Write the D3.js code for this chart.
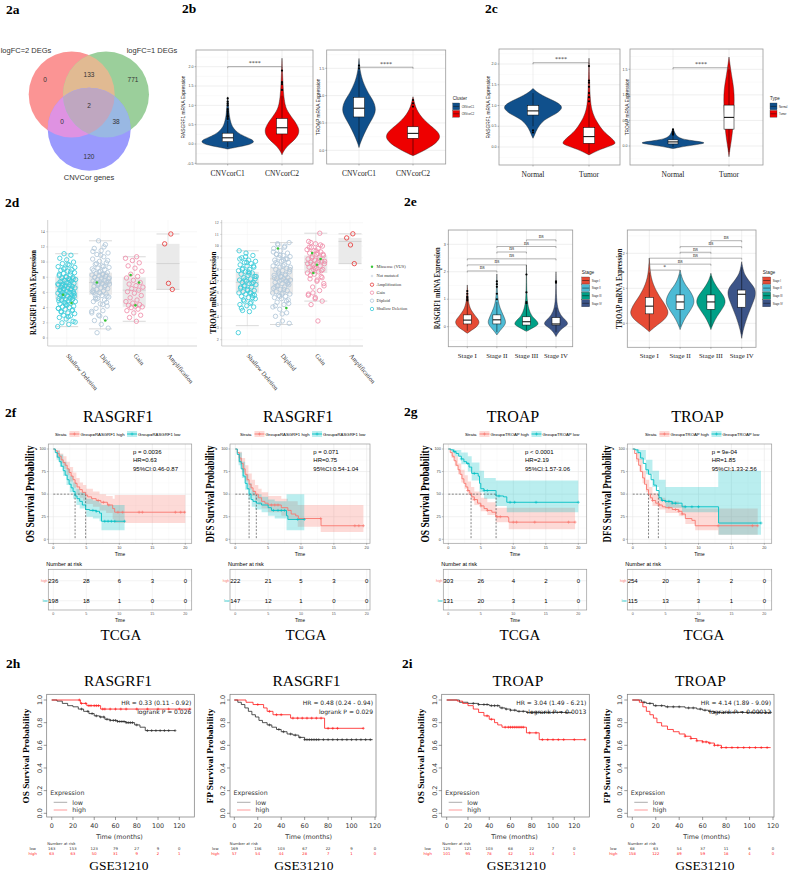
<!DOCTYPE html>
<html><head><meta charset="utf-8">
<script src="https://cdn.jsdelivr.net/npm/d3@7/dist/d3.min.js"></script>
<style>html,body{margin:0;padding:0;background:#fff;}svg{display:block;}</style>
</head><body>
<svg id="fig" width="791" height="872" xmlns="http://www.w3.org/2000/svg"></svg>
<script>
// ================= DATA =================
const vennSetNames = ["logFC=2 DEGs", "logFC=1 DEGs", "CNVCor genes"];
const vennRegionCounts = [0, 133, 771, 2, 0, 38, 120]; // A, A∩B, B, A∩B∩C, A∩C, B∩C, C

const clusterCats = ["CNVcorC1", "CNVcorC2"];
const typeCats = ["Normal", "Tumor"];
const stageCats = ["Stage I", "Stage II", "Stage III", "Stage IV"];
const cnaCats = ["Shallow Deletion", "Diploid", "Gain", "Amplification"];

// violin density profiles [expression, relative half-width]
const rasC1Dens = [[-0.13,0],[-0.08,0.35],[-0.02,0.8],[0.05,1],[0.12,0.9],[0.2,0.6],[0.3,0.35],[0.4,0.22],[0.5,0.14],[0.6,0.1],[0.7,0.07],[0.8,0.05],[1.0,0.03],[1.22,0]];
const rasC2Dens = [[-0.28,0],[-0.15,0.08],[0,0.28],[0.1,0.45],[0.2,0.57],[0.3,0.63],[0.4,0.62],[0.5,0.55],[0.6,0.46],[0.7,0.35],[0.8,0.25],[0.9,0.17],[1.0,0.12],[1.2,0.07],[1.5,0.04],[1.8,0.02],[2.22,0]];
const rasClusterBox = [[-0.08,0.06,0.16,0.28,0.6],[-0.2,0.26,0.42,0.66,1.25]];
const rasClusterOut = [[0.65,0.7,0.72,0.75,0.8,0.85,0.9,1.0,1.05,1.1,1.18],[1.4,1.55,1.6,1.9]];
const troC1Dens = [[0.05,0],[0.15,0.06],[0.3,0.19],[0.45,0.34],[0.55,0.46],[0.65,0.57],[0.74,0.62],[0.85,0.58],[0.95,0.47],[1.05,0.34],[1.15,0.24],[1.25,0.15],[1.35,0.09],[1.45,0.045],[1.55,0.02],[1.68,0]];
const troC2Dens = [[-0.1,0],[-0.02,0.35],[0.05,0.6],[0.12,0.82],[0.2,0.97],[0.27,1],[0.35,0.9],[0.45,0.65],[0.55,0.42],[0.65,0.25],[0.75,0.13],[0.85,0.06],[0.98,0]];
const troClusterBox = [[0.12,0.61,0.77,0.97,1.45],[-0.08,0.22,0.31,0.43,0.74]];
const troClusterOut = [[1.5,1.55],[0.8,0.86,0.92]];

const rasNDens = [[0.21,0],[0.3,0.06],[0.45,0.15],[0.6,0.3],[0.7,0.5],[0.8,0.8],[0.9,0.97],[0.97,1],[1.05,0.9],[1.15,0.6],[1.25,0.3],[1.33,0.12],[1.41,0]];
const rasTDens = [[-0.19,0],[-0.05,0.4],[0.05,0.85],[0.1,0.93],[0.2,0.8],[0.3,0.62],[0.4,0.48],[0.5,0.37],[0.6,0.28],[0.7,0.2],[0.8,0.14],[0.9,0.1],[1.0,0.07],[1.2,0.04],[1.5,0.02],[2.14,0]];
const rasTypeBox = [[0.5,0.77,0.87,1.0,1.3],[-0.15,0.09,0.25,0.47,1.02]];
const rasTypeOut = [[0.4,0.35],[1.1,1.2,1.3,1.45,1.55,1.6,1.95]];
const troNDens = [[-0.05,0],[0,0.4],[0.04,0.85],[0.065,1],[0.09,0.75],[0.12,0.4],[0.16,0.18],[0.22,0.08],[0.28,0.04],[0.35,0]];
const troTDens = [[-0.21,0],[-0.05,0.03],[0.1,0.07],[0.3,0.11],[0.5,0.13],[0.7,0.15],[0.9,0.16],[1.1,0.15],[1.3,0.1],[1.5,0.05],[1.74,0]];
const troTypeBox = [[-0.02,0.04,0.08,0.12,0.2],[-0.12,0.33,0.56,0.8,1.5]];
const troTypeOut = [[0.22,0.25,0.28,0.32],[]];

const rasStageDens = [
  [[-0.24,0],[-0.1,0.45],[0,0.8],[0.1,0.95],[0.18,1],[0.3,0.85],[0.4,0.65],[0.5,0.48],[0.6,0.33],[0.7,0.22],[0.85,0.12],[1.0,0.07],[1.2,0.04],[1.52,0]],
  [[-0.3,0],[-0.15,0.25],[0,0.55],[0.12,0.75],[0.25,0.7],[0.35,0.6],[0.45,0.5],[0.55,0.4],[0.65,0.3],[0.75,0.22],[0.9,0.13],[1.1,0.07],[1.4,0.03],[1.92,0]],
  [[-0.17,0],[-0.05,0.5],[0.05,0.92],[0.12,1],[0.22,0.85],[0.32,0.6],[0.42,0.42],[0.52,0.3],[0.65,0.2],[0.8,0.12],[1.0,0.06],[1.3,0.03],[1.7,0.015],[2.25,0]],
  [[-0.36,0],[-0.2,0.2],[-0.05,0.55],[0.05,0.9],[0.12,1],[0.22,0.85],[0.32,0.6],[0.42,0.4],[0.55,0.25],[0.7,0.14],[0.9,0.07],[1.2,0.03],[1.6,0.015],[2.0,0]]];
const rasStageBox = [[-0.15,0.1,0.24,0.43,0.9],[-0.2,0.1,0.25,0.43,0.9],[-0.12,0.06,0.18,0.36,0.8],[-0.2,0.06,0.1,0.33,0.7]];
const rasStageOut = [[0.95,1.0,1.05,1.1,1.2,1.3],[1.0,1.2,1.45,1.55,1.65],[0.85,0.9,1.25,1.9],[1.6,1.65]];
const rasStageSig = [[0,1,2.03,"ns"],[0,2,2.25,"ns"],[0,3,2.47,"ns"],[1,2,2.72,"ns"],[1,3,2.92,"ns"],[2,3,3.16,"ns"]];

const troStageDens = [
  [[-0.24,0],[-0.1,0.3],[0,0.55],[0.1,0.78],[0.2,0.93],[0.3,1],[0.4,0.95],[0.5,0.86],[0.6,0.75],[0.7,0.62],[0.8,0.5],[0.9,0.4],[1.0,0.3],[1.2,0.15],[1.4,0.07],[1.6,0.03],[1.86,0]],
  [[-0.18,0],[0,0.12],[0.2,0.32],[0.35,0.52],[0.5,0.68],[0.6,0.74],[0.7,0.72],[0.8,0.65],[0.9,0.55],[1.0,0.42],[1.1,0.28],[1.25,0.13],[1.4,0.05],[1.52,0]],
  [[-0.18,0],[0,0.12],[0.2,0.32],[0.35,0.52],[0.5,0.7],[0.6,0.76],[0.7,0.73],[0.8,0.64],[0.9,0.5],[1.0,0.36],[1.15,0.18],[1.3,0.06],[1.43,0]],
  [[-0.43,0],[-0.2,0.07],[0,0.18],[0.2,0.3],[0.4,0.45],[0.6,0.6],[0.75,0.7],[0.88,0.74],[1.0,0.68],[1.1,0.55],[1.2,0.4],[1.35,0.2],[1.5,0.08],[1.76,0]]];
const troStageBox = [[-0.2,0.27,0.49,0.74,1.45],[-0.1,0.4,0.61,0.81,1.4],[-0.1,0.4,0.61,0.81,1.35],[-0.3,0.46,0.83,0.95,1.6]];
const troStageOut = [[],[],[],[]];
const troStageSig = [[0,1,1.52,"*"],[0,2,1.69,"ns"],[0,3,1.86,"ns"],[1,2,2.03,"ns"],[1,3,2.19,"ns"],[2,3,2.36,"ns"]];

// 2d: expression per copy-number group
const rasCnaPts = [
  [1.5,1.8,2.0,2.2,2.5,2.7,2.9,3.0,3.2,3.3,3.5,3.6,3.8,3.9,4.0,4.1,4.2,4.3,4.5,4.6,4.7,4.8,4.9,5.0,5.1,5.1,5.2,5.3,5.4,5.5,5.5,5.6,5.7,5.8,5.9,6.0,6.0,6.1,6.2,6.3,6.4,6.5,6.6,6.6,6.7,6.8,6.9,7.0,7.0,7.1,7.2,7.3,7.4,7.5,7.6,7.7,7.8,7.9,8.0,8.1,8.2,8.3,8.5,8.6,8.8,8.9,9.0,9.2,9.4,9.6,9.8,10.0,10.3,10.5,10.9,11.1,
   2.1,2.8,3.4,3.7,4.4,4.9,5.2,5.6,5.8,6.1,6.3,6.5,6.8,7.1,7.3,7.5,7.8,8.0,8.4,8.7,9.1,9.3,9.7,6.2,5.4,4.6,3.9,7.6,6.9,5.9],
  [0.7,1.3,1.8,2.3,2.6,3.0,3.3,3.6,3.9,4.2,4.5,4.8,5.0,5.2,5.4,5.6,5.7,5.8,6.0,6.1,6.2,6.4,6.5,6.6,6.8,6.9,7.0,7.1,7.2,7.3,7.3,7.4,7.5,7.6,7.7,7.8,7.9,8.0,8.1,8.2,8.3,8.4,8.5,8.6,8.8,8.9,9.0,9.2,9.3,9.5,9.7,9.9,10.1,10.4,10.7,11.0,11.2,11.5,11.8,12.3,12.8,
   3.5,4.4,5.1,5.5,5.9,6.3,6.7,7.0,7.4,7.7,8.0,8.3,8.7,9.1,9.4,9.8,10.2,10.9,6.0,6.9,7.2,7.9,8.4,5.3,4.7,2.9,11.4,12.0],
  [2.2,2.7,3.0,3.3,3.6,3.8,4.0,4.1,4.2,4.3,4.4,4.6,4.8,5.0,5.3,5.6,5.9,6.1,6.3,6.5,6.7,6.9,7.1,7.3,7.6,7.9,8.1,8.4,8.8,9.2,9.5,9.9,10.2,10.5,10.7],
  [6.4,7.2,12.4,13.7]];
const rasCnaMut = [[5.7,4.6],[7.3,2.3],[8.3,7.3,4.3],[]];
const rasCnaBox = [[1.5,5.1,6.7,8.1,11.1],[1.2,5.7,7.3,8.6,12.8],[2.2,4.1,6.3,8.0,10.7],[6.4,6.4,9.8,12.4,13.7]];
const troCnaPts = [
  [2.6,4.4,4.5,4.8,4.9,5.0,5.2,5.3,5.5,5.6,5.7,5.8,5.9,6.0,6.0,6.1,6.2,6.3,6.4,6.5,6.6,6.7,6.8,6.9,6.9,7.0,7.1,7.2,7.3,7.4,7.5,7.6,7.7,7.8,7.9,8.0,8.1,8.2,8.3,8.4,8.5,8.6,8.7,8.8,9.0,9.2,9.4,9.6,
   5.1,5.4,5.8,6.2,6.5,6.8,7.1,7.4,7.7,8.0,8.3,8.6,8.9,6.0,6.6,7.2,7.8,4.7,5.6,9.1],
  [3.3,3.4,3.6,4.0,4.3,4.6,4.8,5.0,5.2,5.4,5.5,5.6,5.7,5.8,5.9,6.0,6.1,6.2,6.3,6.4,6.5,6.6,6.7,6.8,6.9,7.0,7.0,7.1,7.2,7.2,7.3,7.4,7.5,7.6,7.7,7.8,7.9,8.0,8.1,8.2,8.3,8.4,8.5,8.6,8.7,8.8,8.9,9.0,9.1,9.2,9.3,9.4,9.6,9.8,10.0,10.1,10.3,
   4.2,4.9,5.3,5.7,6.0,6.3,6.6,6.9,7.1,7.3,7.5,7.8,8.0,8.3,8.6,8.9,9.2,9.5,9.9,10.2,5.1,5.9,6.5,7.0,7.6,8.2,8.8,9.3,6.8,7.4],
  [3.6,5.0,5.3,5.6,5.9,6.2,6.5,6.8,7.0,7.2,7.4,7.6,7.7,7.8,7.9,8.0,8.1,8.2,8.3,8.4,8.5,8.6,8.6,8.7,8.8,8.9,9.0,9.1,9.2,9.3,9.4,9.5,9.6,9.7,9.8,9.9,10.0,10.2,10.4,11.1,
   6.0,6.6,7.1,7.5,7.9,8.2,8.5,8.8,9.0,9.3,9.6,9.9,10.1,8.0,8.7,9.4,10.3,7.3,5.5,5.8],
  [8.5,10.1,10.7,11.05]];
const troCnaMut = [[],[9.8,4.7],[9.4,8.9,8.4,7.7],[]];
const troCnaBox = [[3.2,6.0,6.9,7.8,9.6],[3.3,5.9,7.2,8.2,10.3],[5.3,7.7,8.6,9.2,11.1],[8.5,8.5,10.4,10.7,11.05]];
const cnaLegendItems = ["Missense (VUS)", "Not mutated", "Amplification", "Gain", "Diploid", "Shallow Deletion"];

// TCGA Kaplan-Meier (time in years, survival in %)
const kmTimeTicks = [0, 5, 10, 15, 20];
const kmSurvTicks = [0, 25, 50, 75, 100];
const f1HighSteps = [[0,100],[0.3,98],[0.6,95],[0.9,92],[1.2,88],[1.5,85],[1.8,82],[2.1,78],[2.4,74],[2.7,70],[3,66],[3.3,62],[3.6,58],[4,55],[4.4,52],[4.9,49],[5.2,47],[5.8,45],[6.5,43],[7.2,41],[8.2,38],[9,34],[9.3,30],[20,30]];
const f1HighCens = [6.8,7.6,8.4,9.8,10.5,13,13.5,18.5,19.3,19.9];
const f1HighCI = [[0,100,100],[0.5,90,99],[1,84,95],[1.5,78,92],[2,71,86],[2.5,64,80],[3,57,74],[3.5,50,68],[4,46,63],[4.5,43,60],[5,39,56],[6,36,53],[7,32,50],[8,29,48],[9,22,45],[9.3,18,49],[20,18,49]];
const f1LowSteps = [[0,100],[0.3,96],[0.6,91],[0.9,86],[1.2,81],[1.5,76],[1.8,71],[2.1,66],[2.4,61],[2.7,57],[3,53],[3.3,48],[3.6,45],[4,42],[4.4,38],[4.9,33],[5.5,32],[6.5,31],[7,29],[7.3,20],[10.8,20]];
const f1LowCens = [6,6.5,7.8,8.3,8.8,9.3,10.8];
const f1LowCI = [[0,100,100],[0.5,88,98],[1,80,94],[1.5,70,86],[2,60,78],[2.5,52,70],[3,45,63],[3.5,38,56],[4,34,52],[5,25,45],[6,23,43],[7,20,40],[7.3,10,38],[10.8,10,38]];
const f1Medians = [4.9, 3.3];
const f1Stats = ["p = 0.0036", "HR=0.63", "95%CI:0.46-0.87"];
const f1RiskHigh = [236, 28, 6, 3, 0];
const f1RiskLow = [198, 18, 1, 0, 0];

const f2HighSteps = [[0,100],[0.3,96],[0.6,90],[0.9,84],[1.2,78],[1.5,72],[1.8,66],[2.1,61],[2.4,57],[2.7,53],[3.1,50],[3.5,46],[4,42],[4.5,40],[5,38],[6.5,38],[7,35],[8,32],[8.5,28],[9.2,26],[9.6,23],[13,23],[13.05,15],[19.5,15]];
const f2HighCens = [5.5,6,6.5,13,18.2,18.8,19.5];
const f2HighCI = [[0,100,100],[0.5,85,97],[1,74,90],[1.5,64,82],[2,55,73],[2.5,48,66],[3,42,60],[3.5,38,56],[4,34,52],[5,30,48],[7,26,45],[8,22,42],[9.5,14,38],[13,8,38],[19.5,8,38]];
const f2LowSteps = [[0,100],[0.3,94],[0.6,86],[0.9,78],[1.2,70],[1.5,62],[1.8,56],[2.1,50],[2.4,44],[2.7,42],[3.2,40],[4,38],[5,35],[5.5,32],[7.5,32],[7.8,26],[8,22],[10.5,22]];
const f2LowCens = [5.8,6.5,7,7.5,9.5,10.5];
const f2LowCI = [[0,100,100],[0.5,82,96],[1,68,86],[1.5,55,72],[2,44,62],[2.5,36,54],[3,33,50],[4,30,47],[5,26,44],[6,23,42],[7.8,10,50],[10.5,10,50]];
const f2Medians = [3.2, 2.1];
const f2Stats = ["p = 0.071", "HR=0.75", "95%CI:0.54-1.04"];
const f2RiskHigh = [222, 21, 5, 3, 0];
const f2RiskLow = [147, 12, 1, 0, 0];

const g1HighSteps = [[0,100],[0.3,96],[0.6,92],[0.9,87],[1.2,82],[1.5,77],[1.8,72],[2.1,67],[2.4,62],[2.7,58],[3,54],[3.3,51],[3.6,47],[4,44],[4.5,40],[5,37],[5.5,34],[6,32],[6.7,30],[7.3,25],[9.2,24],[9.3,19],[19.5,19]];
const g1HighCens = [3,4,5,6,7.5,8,10,10.5,13.3,18.5,19.5];
const g1HighCI = [[0,100,100],[0.5,90,98],[1,81,92],[1.5,72,84],[2,63,77],[2.5,56,71],[3,49,64],[3.5,43,58],[4,38,53],[5,31,46],[6,27,41],[7.3,19,35],[9.3,11,35],[19.5,11,35]];
const g1LowSteps = [[0,100],[0.4,99],[0.8,97],[1.2,95],[1.6,92],[2,89],[2.4,86],[2.8,84],[3.2,80],[3.6,73],[4.6,70],[4.8,62],[5,56],[5.5,54],[7.3,54],[7.35,48],[8.5,47],[9,41],[20,41]];
const g1LowCens = [1,2,3,4,5.5,6,7.8,9.5,10.2,13.5,20];
const g1LowCI = [[0,100,100],[0.5,96,100],[1,92,99],[2,83,96],[3,75,92],[3.6,65,85],[4.8,52,76],[5.5,45,68],[7.3,37,65],[9,30,65],[20,30,65]];
const g1Medians = [3.5, 7.35];
const g1Stats = ["p < 0.0001", "HR=2.19", "95%CI:1.57-3.06"];
const g1RiskHigh = [303, 26, 4, 2, 0];
const g1RiskLow = [131, 20, 3, 1, 0];

const g2HighSteps = [[0,100],[0.3,95],[0.6,89],[0.9,82],[1.2,75],[1.5,68],[1.8,61],[2.1,55],[2.4,50],[2.7,46],[3,43],[3.5,40],[4,38],[4.5,36],[5,35],[6,33],[7,31],[7.5,28],[8,23],[9,21],[9.5,15],[19,15]];
const g2HighCens = [3,4,5.5,6.5,7,7.5,13,18.2,19];
const g2HighCI = [[0,100,100],[0.5,86,96],[1,75,89],[1.5,62,76],[2,52,66],[2.5,44,58],[3,37,51],[4,33,46],[5,29,42],[7,26,38],[8,17,34],[9.5,10,34],[13,5,34],[19,5,34]];
const g2LowSteps = [[0,100],[0.4,99],[0.8,96],[1.2,90],[1.6,84],[2,77],[2.4,72],[2.8,66],[3.2,60],[3.6,54],[4,46],[4.4,43],[5,42],[6,40],[7.5,36],[13,36],[13.05,18],[19.5,18]];
const g2LowCens = [4.5,5,5.5,6,6.5,8,9,10,19.5];
const g2LowCI = [[0,100,100],[0.5,95,100],[1,88,99],[2,72,88],[3,58,76],[4,43,66],[5,35,58],[7.5,30,58],[13,18,76],[13.05,5,76],[19.5,5,76]];
const g2Medians = [2.4, 3.9];
const g2Stats = ["p = 9e-04", "HR=1.85", "95%CI:1.33-2.56"];
const g2RiskHigh = [254, 20, 3, 2, 0];
const g2RiskLow = [115, 13, 3, 1, 0];

// GSE31210 Kaplan-Meier (months, probability)
const gseTimeTicks = [0, 20, 40, 60, 80, 100, 120];
const gseSurvTicks = [0, 0.2, 0.4, 0.6, 0.8, 1.0];
const h1LowSteps = [[0,1],[5,0.99],[10,0.97],[15,0.95],[20,0.94],[25,0.92],[30,0.9],[35,0.88],[40,0.86],[45,0.85],[50,0.83],[55,0.82],[62,0.81],[70,0.8],[78,0.78],[83,0.76],[88,0.73],[116,0.73]];
const h1LowCens = [28,34,38,42,46,49,52,55,58,60,62,64,66,68,70,72,74,76,80,90,94,98,102,106,110,116];
const h1HighSteps = [[0,1],[27,0.97],[33,0.95],[46,0.92],[130,0.92]];
const h1HighCens = [26,28,32,35,37,40,42,44,48,50,55,60,65,70,80,90,100,110,120,130];
const h1Stats = ["HR = 0.33 (0.11 - 0.92)", "logrank P = 0.026"];
const h1RiskLow = [163, 153, 123, 79, 27, 9, 0];
const h1RiskHigh = [63, 63, 50, 31, 9, 2, 1];

const h2LowSteps = [[0,1],[3,0.98],[6,0.96],[9,0.93],[12,0.9],[15,0.87],[18,0.85],[21,0.82],[24,0.8],[28,0.78],[32,0.76],[36,0.74],[40,0.72],[45,0.7],[50,0.69],[55,0.67],[60,0.65],[118,0.65]];
const h2LowCens = [30,38,42,48,52,56,60,62,64,66,68,70,72,76,80,84,88,92,96,100,104,108,112,116];
const h2HighSteps = [[0,1],[10,0.98],[16,0.96],[25,0.93],[28,0.9],[33,0.87],[48,0.84],[77,0.75],[110,0.75]];
const h2HighCens = [20,30,36,40,50,54,58,62,66,70,74,80,84,88,110];
const h2Stats = ["HR = 0.48 (0.24 - 0.94)", "logrank P = 0.029"];
const h2RiskLow = [169, 136, 103, 67, 22, 9, 0];
const h2RiskHigh = [57, 54, 44, 28, 7, 1, 0];

const i1LowSteps = [[0,1],[12,0.98],[20,0.97],[30,0.96],[40,0.95],[50,0.93],[55,0.92],[60,0.91],[66,0.9],[75,0.89],[118,0.89]];
const i1LowCens = [25,30,35,38,42,45,48,52,56,60,64,68,72,76,80,84,88,92,96,100,104,108,112];
const i1HighSteps = [[0,1],[10,0.99],[15,0.97],[20,0.95],[25,0.92],[30,0.89],[35,0.86],[40,0.83],[45,0.8],[48,0.78],[52,0.76],[75,0.71],[87,0.65],[130,0.65]];
const i1HighCens = [38,42,55,58,60,62,64,66,68,70,72,78,84,90,95,100,105,110,120,130];
const i1Stats = ["HR = 3.04 (1.49 - 6.21)", "logrank P = 0.0013"];
const i1RiskLow = [125, 121, 103, 68, 22, 7, 0];
const i1RiskHigh = [101, 95, 78, 42, 14, 4, 1];

const i2LowSteps = [[0,1],[8,0.98],[12,0.97],[18,0.95],[28,0.94],[45,0.93],[55,0.92],[60,0.91],[65,0.9],[70,0.89],[118,0.89]];
const i2LowCens = [10,15,20,25,30,35,40,48,52,58,62,66,70,74,78,82,86,90,94,98,102,108,114,118];
const i2HighSteps = [[0,1],[6,0.98],[9,0.94],[12,0.9],[15,0.87],[18,0.84],[21,0.8],[25,0.77],[30,0.74],[35,0.72],[40,0.7],[45,0.68],[50,0.66],[55,0.64],[60,0.63],[65,0.62],[70,0.6],[76,0.58],[118,0.58]];
const i2HighCens = [45,50,55,60,63,66,70,73,76,80,85,90,95,100,105,110,115];
const i2Stats = ["HR = 4.14 (1.89 - 9.09)", "logrank P = 0.00012"];
const i2RiskLow = [68, 63, 54, 37, 11, 6, 0];
const i2RiskHigh = [158, 122, 89, 59, 18, 4, 0];

// ================= DRAWING =================
const SERIF = "'Liberation Serif','Times New Roman',serif";
const SANS = "'Liberation Sans',Arial,sans-serif";
const DV = "'DejaVu Sans',sans-serif";
const svg = d3.select("#fig");
const BLUE = "#10508c", RED = "#ee0000";
const STAGE_COLS = ["#E64B35", "#4DBBD5", "#00A087", "#3C5488"];
const HI = "#F8766D", LO = "#00BFC4";

function T(g, x, y, s, o = {}) {
  const t = g.append("text").attr("x", x).attr("y", y).text(s)
    .attr("font-family", o.f || SANS).attr("font-size", o.s || 8)
    .attr("fill", o.c || "#000").attr("text-anchor", o.a || "start");
  if (o.w) t.attr("font-weight", o.w);
  if (o.r) t.attr("transform", `rotate(${o.r},${x},${y})`);
  if (o.len) t.attr("textLength", o.len).attr("lengthAdjust", "spacingAndGlyphs");
  return t;
}
function L(g, x1, y1, x2, y2, c, w, dash) {
  const l = g.append("line").attr("x1", x1).attr("y1", y1).attr("x2", x2).attr("y2", y2)
    .attr("stroke", c).attr("stroke-width", w);
  if (dash) l.attr("stroke-dasharray", dash);
  return l;
}
function plus(g, x, y, c, r, w) {
  g.append("path").attr("d", `M${x - r},${y}H${x + r}M${x},${y - r}V${y + r}`)
    .attr("stroke", c).attr("stroke-width", w || 0.6).attr("fill", "none");
}
function stepAt(steps, t) { let v = steps[0][1]; for (const s of steps) { if (s[0] <= t) v = s[1]; else break; } return v; }

// panel labels
[["2a", 6, 13.5], ["2b", 182, 13], ["2c", 485, 13], ["2d", 5, 207], ["2e", 404, 206],
 ["2f", 5, 417], ["2g", 404, 416], ["2h", 6, 668], ["2i", 402, 668]]
  .forEach(d => T(svg, d[1], d[2], d[0], { f: SERIF, s: 13.5, w: "bold" }));

// ---------- 2a Venn ----------
(function () {
  const g = svg.append("g");
  const A = [71.7, 94.5, 43], B = [106, 94.5, 43], C = [89.2, 129.2, 41.5];
  const defs = svg.append("defs");
  [["clipA", A], ["clipB", B]].forEach(([id, c]) => defs.append("clipPath").attr("id", id)
    .append("circle").attr("cx", c[0]).attr("cy", c[1]).attr("r", c[2]));
  const circ = (parent, c, col) => parent.append("circle").attr("cx", c[0]).attr("cy", c[1]).attr("r", c[2]).attr("fill", col);
  circ(g, A, "#fb9494"); circ(g, B, "#9bcf9b"); circ(g, C, "#9a9afd");
  circ(g.append("g").attr("clip-path", "url(#clipA)"), B, "#e1ba92");
  circ(g.append("g").attr("clip-path", "url(#clipA)"), C, "#df92e2");
  circ(g.append("g").attr("clip-path", "url(#clipB)"), C, "#99b8e3");
  circ(g.append("g").attr("clip-path", "url(#clipB)").append("g").attr("clip-path", "url(#clipA)"), C, "#bfa7c0");
  const pos = [[45, 82], [89, 77], [133, 82], [89, 107.5], [62, 123.5], [116, 123.5], [89, 158.5]];
  vennRegionCounts.forEach((v, i) => T(g, pos[i][0], pos[i][1], String(v), { s: 6.5, a: "middle", c: "#333" }));
  T(g, 26, 52.5, vennSetNames[0], { s: 7.5, a: "middle", c: "#333" });
  T(g, 152, 52.5, vennSetNames[1], { s: 7.5, a: "middle", c: "#333" });
  T(g, 89, 179.5, vennSetNames[2], { s: 7.5, a: "middle", c: "#333" });
})();

// ---------- generic violin panel ----------
function vPanel(o) {
  const g = svg.append("g");
  const ys = d3.scaleLinear().domain(o.yd).range(o.yr);
  const xs = d3.scalePoint().domain(o.cats).range(o.xr);
  g.append("rect").attr("x", o.x0).attr("y", o.y0).attr("width", o.x1 - o.x0).attr("height", o.y1 - o.y0).attr("fill", "#fff");
  const st = o.ticks[1] - o.ticks[0];
  d3.range(o.ticks[0] - 2 * st, o.ticks[o.ticks.length - 1] + 2 * st + 1e-9, st / 2).forEach(v => {
    const y = ys(v); if (y < o.y0 + 0.5 || y > o.y1 - 0.5) return;
    const major = o.ticks.some(t => Math.abs(t - v) < 1e-6);
    L(g, o.x0, y, o.x1, y, major ? "#e4e4e4" : "#f2f2f2", major ? 0.6 : 0.4);
  });
  o.cats.forEach(c => L(g, xs(c), o.y0, xs(c), o.y1, "#e4e4e4", 0.6));
  const area = d3.area().curve(d3.curveBasis).y(d => ys(d[0]));
  o.dens.forEach((prof, i) => {
    const cx = xs(o.cats[i]);
    g.append("path").attr("d", area.x0(d => cx - d[1] * o.mw).x1(d => cx + d[1] * o.mw)(prof))
      .attr("fill", o.cols[i]).attr("stroke", "#1a1a1a").attr("stroke-width", 0.4);
    const b = o.box[i];
    L(g, cx, ys(b[0]), cx, ys(b[4]), "#000", 0.5);
    g.append("rect").attr("x", cx - o.bw / 2).attr("y", ys(b[3])).attr("width", o.bw).attr("height", ys(b[1]) - ys(b[3]))
      .attr("fill", "#fff").attr("stroke", "#000").attr("stroke-width", 0.5);
    L(g, cx - o.bw / 2, ys(b[2]), cx + o.bw / 2, ys(b[2]), "#000", 1);
    (o.out[i] || []).forEach(v => g.append("circle").attr("cx", cx).attr("cy", ys(v)).attr("r", 1.1).attr("fill", "#000"));
  });
  g.append("rect").attr("x", o.x0).attr("y", o.y0).attr("width", o.x1 - o.x0).attr("height", o.y1 - o.y0)
    .attr("fill", "none").attr("stroke", "#9a9a9a").attr("stroke-width", 0.8);
  o.ticks.forEach(v => {
    if (ys(v) < o.y0 - 0.5 || ys(v) > o.y1 + 0.5) return;
    L(g, o.x0 - 1.5, ys(v), o.x0, ys(v), "#555", 0.4);
    T(g, o.x0 - 2.5, ys(v) + 1.2, o.fmt(v), { s: o.ts || 3.6, a: "end", c: "#444" });
  });
  o.cats.forEach(c => {
    L(g, xs(c), o.y1, xs(c), o.y1 + 1.5, "#555", 0.4);
    T(g, xs(c), o.xly, c, { f: SERIF, s: o.xls, a: "middle", c: "#222" });
  });
  const yl = T(g, o.ylx, (o.y0 + o.y1) / 2, o.ylab, { r: -90, a: "middle", s: o.yls, f: o.ylf || SANS, w: o.ylw, c: "#222" });
  if (o.ylen) yl.attr("textLength", o.ylen).attr("lengthAdjust", "spacingAndGlyphs");
  (o.sig || []).forEach(s => {
    const xa = xs(o.cats[s[0]]), xb = xs(o.cats[s[1]]), y = ys(s[2]);
    g.append("path").attr("d", `M${xa},${y + 1.5}V${y}H${xb}V${y + 1.5}`).attr("fill", "none").attr("stroke", o.sigc || "#555").attr("stroke-width", 0.5);
    T(g, (xa + xb) / 2, y - 1.6, s[3], { f: SERIF, s: o.sigs || 6, a: "middle", c: "#333" });
  });
  if (o.leg) {
    const lg = o.leg;
    T(g, lg.x, lg.y, lg.title, { s: lg.ts || 4.5, c: "#222" });
    lg.items.forEach((it, i) => {
      const yy = lg.y + 3 + i * lg.dy;
      g.append("rect").attr("x", lg.x).attr("y", yy).attr("width", lg.kw).attr("height", lg.dy - 0.6)
        .attr("fill", o.cols[i]).attr("stroke", "#333").attr("stroke-width", 0.3);
      L(g, lg.x + 0.5, yy + (lg.dy - 0.6) / 2, lg.x + lg.kw - 0.5, yy + (lg.dy - 0.6) / 2, "#111", 0.5);
      T(g, lg.x + lg.kw + 2, yy + lg.dy / 2 + 1, it, { s: lg.is || 3, c: "#222" });
    });
  }
  return { g, xs, ys };
}
const f1 = v => v.toFixed(1);

// 2b
vPanel({ x0: 196, x1: 313, y0: 50, y1: 164, yd: [0, 2], yr: [144, 66.7], ticks: [-0.5, 0, 0.5, 1, 1.5, 2], fmt: f1,
  cats: clusterCats, xr: [227.7, 282], dens: [rasC1Dens, rasC2Dens], box: rasClusterBox, out: rasClusterOut,
  cols: [BLUE, RED], mw: 27, bw: 11, xly: 176, xls: 7.5, ylab: "RASGRF1 mRNA Expression", ylx: 185, yls: 4.8,
  sig: [[0, 1, 2.0, "****"]] });
vPanel({ x0: 326.7, x1: 445.7, y0: 50, y1: 164, yd: [0, 1.5], yr: [150.3, 68.3], ticks: [0, 0.5, 1, 1.5], fmt: f1,
  cats: clusterCats, xr: [359, 413], dens: [troC1Dens, troC2Dens], box: troClusterBox, out: troClusterOut,
  cols: [BLUE, RED], mw: 27, bw: 11, xly: 176, xls: 7.5, ylab: "TROAP mRNA Expression", ylx: 320, yls: 4.8,
  sig: [[0, 1, 1.52, "****"]],
  leg: { x: 452.7, y: 100, title: "Cluster", items: clusterCats, dy: 7.4, kw: 7, is: 2.6 } });
// 2c
vPanel({ x0: 499, x1: 620, y0: 49, y1: 165, yd: [0, 2], yr: [147, 64], ticks: [0, 0.5, 1, 1.5, 2], fmt: f1,
  cats: typeCats, xr: [533, 589], dens: [rasNDens, rasTDens], box: rasTypeBox, out: rasTypeOut,
  cols: [BLUE, RED], mw: 29, bw: 11.5, xly: 177, xls: 7.5, ylab: "RASGRF1 mRNA Expression", ylx: 490, yls: 4.8,
  sig: [[0, 1, 2.03, "****"]] });
vPanel({ x0: 630, x1: 763, y0: 49, y1: 165, yd: [0, 1.5], yr: [146, 69.3], ticks: [0, 0.5, 1, 1.5], fmt: f1,
  cats: typeCats, xr: [673, 729], dens: [troNDens, troTDens], box: troTypeBox, out: troTypeOut,
  cols: [BLUE, RED], mw: 33, bw: 10, xly: 177, xls: 7.5, ylab: "TROAP mRNA Expression", ylx: 629, yls: 4.8,
  sig: [[0, 1, 1.53, "****"]],
  leg: { x: 770, y: 100, title: "Type", items: typeCats, dy: 7.4, kw: 7, is: 2.6 } });

// 2e
vPanel({ x0: 448.3, x1: 572.7, y0: 230, y1: 346.7, yd: [0, 3], yr: [326.7, 244.3], ticks: [0, 1, 2, 3], fmt: v => String(v),
  cats: stageCats, xr: [467.3, 556], dens: rasStageDens, box: rasStageBox, out: rasStageOut,
  cols: STAGE_COLS, mw: 12, bw: 8, xly: 358, xls: 6.8, ylab: "RASGRF1 mRNA Expression", ylx: 440.5, yls: 7.5,
  ylf: SERIF, ylw: "bold", ylen: 82, sig: rasStageSig, sigs: 5.5, sigc: "#666",
  leg: { x: 581.7, y: 274, title: "Stage", items: stageCats, dy: 7.6, kw: 8, is: 2.6, ts: 4.8 } });
vPanel({ x0: 627.3, x1: 756, y0: 230, y1: 347.3, yd: [0, 2], yr: [323.3, 253.3], ticks: [0, 1, 2], fmt: v => String(v),
  cats: stageCats, xr: [649.3, 741.7], dens: troStageDens, box: troStageBox, out: troStageOut,
  cols: STAGE_COLS, mw: 19, bw: 8, xly: 358, xls: 6.8, ylab: "TROAP mRNA Expression", ylx: 622, yls: 7.5,
  ylf: SERIF, ylw: "bold", ylen: 80, sig: troStageSig, sigs: 5.5, sigc: "#666",
  leg: { x: 762.7, y: 274, title: "Stage", items: stageCats, dy: 7.6, kw: 8, is: 2.6, ts: 4.8 } });

// ---------- 2d copy-number panels ----------
const CNA_COLS = ["#3ccbd9", "#b3c8d9", "#f08fab", "#e63c3c"];
function cnaPanel(o) {
  const g = svg.append("g");
  const ys = d3.scaleLinear().domain(o.yd).range(o.yr);
  const xs = d3.scalePoint().domain(cnaCats).range(o.xr);
  o.ticks.forEach(v => L(g, o.x0, ys(v), o.x1, ys(v), "#f0f0f0", 0.5));
  cnaCats.forEach(c => L(g, xs(c), o.y0, xs(c), o.y1, "#f0f0f0", 0.5));
  const bw = 23;
  o.box.forEach((b, i) => {
    const cx = xs(cnaCats[i]);
    g.append("rect").attr("x", cx - bw / 2).attr("y", ys(b[3])).attr("width", bw).attr("height", ys(b[1]) - ys(b[3]))
      .attr("fill", "#e6e6e6").attr("fill-opacity", 0.85);
    L(g, cx - bw / 2, ys(b[2]), cx + bw / 2, ys(b[2]), "#c8c8c8", 0.7);
    L(g, cx - bw / 2, ys(b[0]), cx + bw / 2, ys(b[0]), "#c8c8c8", 0.7);
    L(g, cx - bw / 2, ys(b[4]), cx + bw / 2, ys(b[4]), "#c8c8c8", 0.7);
    L(g, cx, ys(b[3]), cx, ys(b[4]), "#d0d0d0", 0.5);
    L(g, cx, ys(b[1]), cx, ys(b[0]), "#d0d0d0", 0.5);
  });
  o.pts.forEach((vals, i) => {
    const cx = xs(cnaCats[i]);
    vals.forEach((v, j) => {
      const jit = (((j * 0.6180339887 + i * 0.31) % 1) - 0.5) * 2 * (i === 3 ? 5 : 9);
      g.append("circle").attr("cx", cx + jit).attr("cy", ys(v)).attr("r", 2.2)
        .attr("fill", "none").attr("stroke", CNA_COLS[i]).attr("stroke-width", 0.95).attr("stroke-opacity", 0.9);
    });
  });
  o.mut.forEach((vals, i) => {
    const cx = xs(cnaCats[i]);
    vals.forEach((v, j) => g.append("circle").attr("cx", cx + ((j * 0.7 + 0.2) % 1 - 0.5) * 12).attr("cy", ys(v)).attr("r", 1.3).attr("fill", "#38c438"));
  });
  L(g, o.x0, o.y0, o.x0, o.y1, "#bdbdbd", 0.7);
  L(g, o.x0, o.y1, o.x1, o.y1, "#bdbdbd", 0.7);
  o.ticks.forEach(v => {
    L(g, o.x0 - 1.5, ys(v), o.x0, ys(v), "#999", 0.4);
    T(g, o.x0 - 3, ys(v) + 1.3, String(v), { f: SERIF, s: 4, a: "end", c: "#555" });
  });
  cnaCats.forEach(c => T(g, xs(c) - 1, o.y1 + 10, c, { f: SERIF, s: 6.5, c: "#333", r: 50 }));
  T(g, o.ylx, 292.5, o.ylab, { f: SERIF, s: 7.5, w: "bold", r: -90, a: "middle", len: o.ylen });
  return g;
}
cnaPanel({ x0: 47.7, x1: 197, y0: 220, y1: 346, yd: [0, 14], yr: [338, 231.7], ticks: [0, 2, 4, 6, 8, 10, 12, 14],
  xr: [66.7, 168], pts: rasCnaPts, mut: rasCnaMut, box: rasCnaBox, ylab: "RASGRF1 mRNA Expression", ylx: 36, ylen: 85 });
const cg = cnaPanel({ x0: 221.7, x1: 363, y0: 220, y1: 346, yd: [2, 12], yr: [339.7, 222.7], ticks: [2, 3, 4, 5, 6, 7, 8, 9, 10, 11, 12],
  xr: [247.3, 350], pts: troCnaPts, mut: troCnaMut, box: troCnaBox, ylab: "TROAP mRNA Expression", ylx: 216, ylen: 82 });
(function () {
  const ly = [266.7, 276, 284.7, 292.7, 300.7, 309];
  cnaLegendItems.forEach((it, i) => {
    const y = ly[i];
    if (i === 0) cg.append("circle").attr("cx", 372).attr("cy", y).attr("r", 1.2).attr("fill", "#38c438");
    else if (i === 1) plus(cg, 372, y, "#b8c8d8", 1.2, 0.6);
    else cg.append("circle").attr("cx", 372).attr("cy", y).attr("r", 1.7).attr("fill", "none")
      .attr("stroke", [null, null, CNA_COLS[3], CNA_COLS[2], CNA_COLS[1], CNA_COLS[0]][i]).attr("stroke-width", 0.8);
    T(cg, 376.5, y + 1.4, it, { f: SERIF, s: 4.4, c: "#333" });
  });
})();

// ---------- TCGA KM ----------
function kmTCGA(o) {
  const g = svg.append("g");
  const x0 = o.x0, x1 = o.x1, y0 = 444, y1 = 543.3;
  const xs = d3.scaleLinear().domain([0, 20]).range([o.t0, o.t20]);
  const ys = d3.scaleLinear().domain([0, 100]).range([539.3, 449]);
  T(g, (x0 + x1) / 2 - 2, 422, o.title, { f: SERIF, s: 16, a: "middle" });
  g.append("rect").attr("x", x0).attr("y", y0).attr("width", x1 - x0).attr("height", y1 - y0).attr("fill", "#fff");
  [2.5, 7.5, 12.5, 17.5].forEach(t => L(g, xs(t), y0, xs(t), y1, "#f4f4f4", 0.4));
  [12.5, 37.5, 62.5, 87.5].forEach(v => L(g, x0, ys(v), x1, ys(v), "#f4f4f4", 0.4));
  kmTimeTicks.forEach(t => L(g, xs(t), y0, xs(t), y1, "#e6e6e6", 0.6));
  kmSurvTicks.forEach(v => L(g, x0, ys(v), x1, ys(v), "#e6e6e6", 0.6));
  const area = d3.area().curve(d3.curveStepAfter).x(d => xs(d[0])).y0(d => ys(d[1])).y1(d => ys(d[2]));
  const ln = d3.line().curve(d3.curveStepAfter).x(d => xs(d[0])).y(d => ys(d[1]));
  const grp = [[o.hi, HI], [o.lo, LO]];
  grp.forEach(([d, c]) => g.append("path").attr("d", area(d.ci)).attr("fill", c).attr("fill-opacity", 0.27));
  const mMax = Math.max(...o.med);
  g.append("path").attr("d", `M${xs(0)},${ys(50)}H${xs(mMax)}` + o.med.map(m => `M${xs(m)},${ys(50)}V${ys(0)}`).join(""))
    .attr("stroke", "#333").attr("stroke-width", 0.6).attr("stroke-dasharray", "2,1.5").attr("fill", "none");
  grp.forEach(([d, c]) => {
    g.append("path").attr("d", ln(d.steps)).attr("stroke", c).attr("stroke-width", 0.9).attr("fill", "none");
    d.cens.forEach(t => plus(g, xs(t), ys(stepAt(d.steps, t)), c, 1.5, 0.6));
  });
  g.append("rect").attr("x", x0).attr("y", y0).attr("width", x1 - x0).attr("height", y1 - y0)
    .attr("fill", "none").attr("stroke", "#9a9a9a").attr("stroke-width", 0.7);
  kmSurvTicks.forEach(v => { L(g, x0 - 1.5, ys(v), x0, ys(v), "#555", 0.4); T(g, x0 - 2.5, ys(v) + 1.3, String(v), { s: 3.8, a: "end", c: "#444" }); });
  kmTimeTicks.forEach(t => { L(g, xs(t), y1, xs(t), y1 + 1.5, "#555", 0.4); T(g, xs(t), y1 + 5.5, String(t), { s: 3.8, a: "middle", c: "#444" }); });
  T(g, (x0 + x1) / 2, 556, "Time", { s: 4.8, a: "middle" });
  T(g, o.ylx, 494, o.ylab, { f: SERIF, s: 12, w: "bold", r: -90, a: "middle", len: 97 });
  o.stats.forEach((s, i) => T(g, o.annX, 454 + i * 8.3, s, { s: 6 }));
  // legend
  let lx = o.legX;
  const st = T(g, lx, 435.8, "Strata", { s: 4.3 });
  lx += st.node().getComputedTextLength() + 3;
  [["high", HI], ["low", LO]].forEach(([k, c]) => {
    g.append("rect").attr("x", lx).attr("y", 431).attr("width", 10).attr("height", 6).attr("fill", c).attr("fill-opacity", 0.27);
    L(g, lx, 434, lx + 10, 434, c, 0.9);
    plus(g, lx + 5, 434, c, 1.5, 0.6);
    const t = T(g, lx + 11, 435.7, "Group=" + o.gene + " " + k, { s: 4.3 });
    lx += 11 + t.node().getComputedTextLength() + 2.5;
  });
  // risk table
  T(g, x0 - 2, 566, "Number at risk", { s: 5.5 });
  const ty0 = 569.3, ty1 = 610;
  g.append("rect").attr("x", x0).attr("y", ty0).attr("width", x1 - x0).attr("height", ty1 - ty0).attr("fill", "#fff");
  kmTimeTicks.forEach(t => L(g, xs(t), ty0, xs(t), ty1, "#ececec", 0.6));
  [580.7, 600.7].forEach(y => L(g, x0, y, x1, y, "#ececec", 0.6));
  g.append("rect").attr("x", x0).attr("y", ty0).attr("width", x1 - x0).attr("height", ty1 - ty0)
    .attr("fill", "none").attr("stroke", "#9a9a9a").attr("stroke-width", 0.7);
  [[o.rHi, "high", HI, 580.7], [o.rLo, "low", LO, 600.7]].forEach(([vals, lab, c, y]) => {
    T(g, x0 - 0.8, y + 1.2, lab, { s: 3.4, a: "end", c: c });
    vals.forEach((v, i) => T(g, xs(kmTimeTicks[i]), y + 2.2, String(v), { s: 6, a: "middle" }));
  });
  kmTimeTicks.forEach(t => T(g, xs(t), ty1 + 5, String(t), { s: 3.6, a: "middle", c: "#555" }));
  T(g, (x0 + x1) / 2, 621.8, "Time", { s: 4.6, a: "middle" });
  T(g, o.tcgaX, 640, "TCGA", { f: SERIF, s: 15, a: "middle" });
}
kmTCGA({ x0: 48.3, x1: 191.7, t0: 53.3, t20: 185.3, title: "RASGRF1", gene: "RASGRF1", ylab: "OS Survival Probability", ylx: 34,
  hi: { steps: f1HighSteps, ci: f1HighCI, cens: f1HighCens }, lo: { steps: f1LowSteps, ci: f1LowCI, cens: f1LowCens },
  med: f1Medians, stats: f1Stats, annX: 133, legX: 55, rHi: f1RiskHigh, rLo: f1RiskLow, tcgaX: 121 });
kmTCGA({ x0: 230, x1: 370, t0: 235.3, t20: 366.7, title: "RASGRF1", gene: "RASGRF1", ylab: "DFS Survival Probability", ylx: 214,
  hi: { steps: f2HighSteps, ci: f2HighCI, cens: f2HighCens }, lo: { steps: f2LowSteps, ci: f2LowCI, cens: f2LowCens },
  med: f2Medians, stats: f2Stats, annX: 313.3, legX: 240, rHi: f2RiskHigh, rLo: f2RiskLow, tcgaX: 306 });
kmTCGA({ x0: 443.3, x1: 586.7, t0: 448.3, t20: 578.3, title: "TROAP", gene: "TROAP", ylab: "OS Survival Probability", ylx: 429,
  hi: { steps: g1HighSteps, ci: g1HighCI, cens: g1HighCens }, lo: { steps: g1LowSteps, ci: g1LowCI, cens: g1LowCens },
  med: g1Medians, stats: g1Stats, annX: 525, legX: 465, rHi: g1RiskHigh, rLo: g1RiskLow, tcgaX: 520 });
kmTCGA({ x0: 627.3, x1: 771.7, t0: 632.7, t20: 764.3, title: "TROAP", gene: "TROAP", ylab: "DFS Survival Probability", ylx: 610.5,
  hi: { steps: g2HighSteps, ci: g2HighCI, cens: g2HighCens }, lo: { steps: g2LowSteps, ci: g2LowCI, cens: g2LowCens },
  med: g2Medians, stats: g2Stats, annX: 711.7, legX: 645, rHi: g2RiskHigh, rLo: g2RiskLow, tcgaX: 704 });

// ---------- GSE31210 KM ----------
function kmGSE(o) {
  const g = svg.append("g");
  const x0 = o.x0, x1 = o.x1, y0 = 694.3, y1 = 817;
  const xs = d3.scaleLinear().domain([0, 120]).range([o.t0, o.t120]);
  const ys = d3.scaleLinear().domain([0, 1]).range([813.3, 700]);
  T(g, o.titleX, 686, o.title, { f: SERIF, s: 15.5, a: "middle" });
  g.append("rect").attr("x", x0).attr("y", y0).attr("width", x1 - x0).attr("height", y1 - y0).attr("fill", "#fff");
  const ln = d3.line().curve(d3.curveStepAfter).x(d => xs(d[0])).y(d => ys(d[1]));
  [[o.lo, "#2a2a2a"], [o.hi, "#ff1a1a"]].forEach(([d, c]) => {
    g.append("path").attr("d", ln(d.steps)).attr("stroke", c).attr("stroke-width", 0.8).attr("fill", "none");
    d.cens.forEach(t => plus(g, xs(t), ys(stepAt(d.steps, t)), c, 1.4, 0.6));
  });
  g.append("rect").attr("x", x0).attr("y", y0).attr("width", x1 - x0).attr("height", y1 - y0)
    .attr("fill", "none").attr("stroke", "#777").attr("stroke-width", 0.7);
  gseSurvTicks.forEach(v => {
    L(g, x0 - 3, ys(v), x0, ys(v), "#555", 0.6);
    T(g, x0 - 5, ys(v), v.toFixed(1), { f: DV, s: 6.4, a: "middle", r: -90, c: "#333" });
  });
  gseTimeTicks.forEach(t => {
    L(g, xs(t), y1, xs(t), y1 + 3, "#555", 0.6);
    T(g, xs(t), 828.3, String(t), { f: DV, s: 6.4, a: "middle", c: "#333" });
  });
  T(g, (o.t0 + o.t120) / 2 + 4, 838.5, "Time (months)", { f: DV, s: 6.4, a: "middle", c: "#333" });
  T(g, o.ylx, 756, o.ylab, { f: SERIF, s: 9, w: "bold", r: -90, a: "middle", len: 95 });
  o.stats.forEach((s, i) => T(g, x1 - 3, 704.5 + i * 9.5, s, { f: DV, s: 6, a: "end", c: "#222" }));
  const lx = x0 + 3.5;
  T(g, lx, 795, "Expression", { f: DV, s: 6.3, c: "#333" });
  L(g, lx + 3.5, 802.3, lx + 17, 802.3, "#888", 0.7);
  T(g, lx + 22, 804.6, "low", { f: DV, s: 6.3, c: "#333" });
  L(g, lx + 3.5, 810, lx + 17, 810, "#ff9a9a", 1);
  T(g, lx + 22, 812.3, "high", { f: DV, s: 6.3, c: "#333" });
  T(g, o.t0 - 4.5, 845.2, "Number at risk", { f: DV, s: 3.8, c: "#333" });
  T(g, o.t0 - 19, 850.3, "low", { f: DV, s: 3.8, a: "middle", c: "#333" });
  T(g, o.t0 - 19, 855.3, "high", { f: DV, s: 3.8, a: "middle", c: "#ff1a1a" });
  o.rLo.forEach((v, i) => T(g, xs(gseTimeTicks[i]), 850.3, String(v), { f: DV, s: 3.8, a: "middle", c: "#333" }));
  o.rHi.forEach((v, i) => T(g, xs(gseTimeTicks[i]), 855.3, String(v), { f: DV, s: 3.8, a: "middle", c: "#ff1a1a" }));
  T(g, o.gseX, 870, "GSE31210", { f: SERIF, s: 13.5, a: "middle" });
}
kmGSE({ x0: 46.7, x1: 194.3, t0: 51.7, t120: 179.3, title: "RASGRF1", titleX: 118, ylab: "OS Survival Probability", ylx: 29,
  lo: { steps: h1LowSteps, cens: h1LowCens }, hi: { steps: h1HighSteps, cens: h1HighCens }, stats: h1Stats,
  rLo: h1RiskLow, rHi: h1RiskHigh, gseX: 119 });
kmGSE({ x0: 230, x1: 376, t0: 234.3, t120: 375, title: "RASGRF1", titleX: 306.5, ylab: "FP Survival Probability", ylx: 212.5,
  lo: { steps: h2LowSteps, cens: h2LowCens }, hi: { steps: h2HighSteps, cens: h2HighCens }, stats: h2Stats,
  rLo: h2RiskLow, rHi: h2RiskHigh, gseX: 304 });
kmGSE({ x0: 441.7, x1: 589.3, t0: 446.7, t120: 574.3, title: "TROAP", titleX: 518, ylab: "OS Survival Probability", ylx: 424,
  lo: { steps: i1LowSteps, cens: i1LowCens }, hi: { steps: i1HighSteps, cens: i1HighCens }, stats: i1Stats,
  rLo: i1RiskLow, rHi: i1RiskHigh, gseX: 516.5 });
kmGSE({ x0: 627.3, x1: 774, t0: 632.3, t120: 773, title: "TROAP", titleX: 700.5, ylab: "FP Survival Probability", ylx: 610,
  lo: { steps: i2LowSteps, cens: i2LowCens }, hi: { steps: i2HighSteps, cens: i2HighCens }, stats: i2Stats,
  rLo: i2RiskLow, rHi: i2RiskHigh, gseX: 705 });
</script>
</body></html>
